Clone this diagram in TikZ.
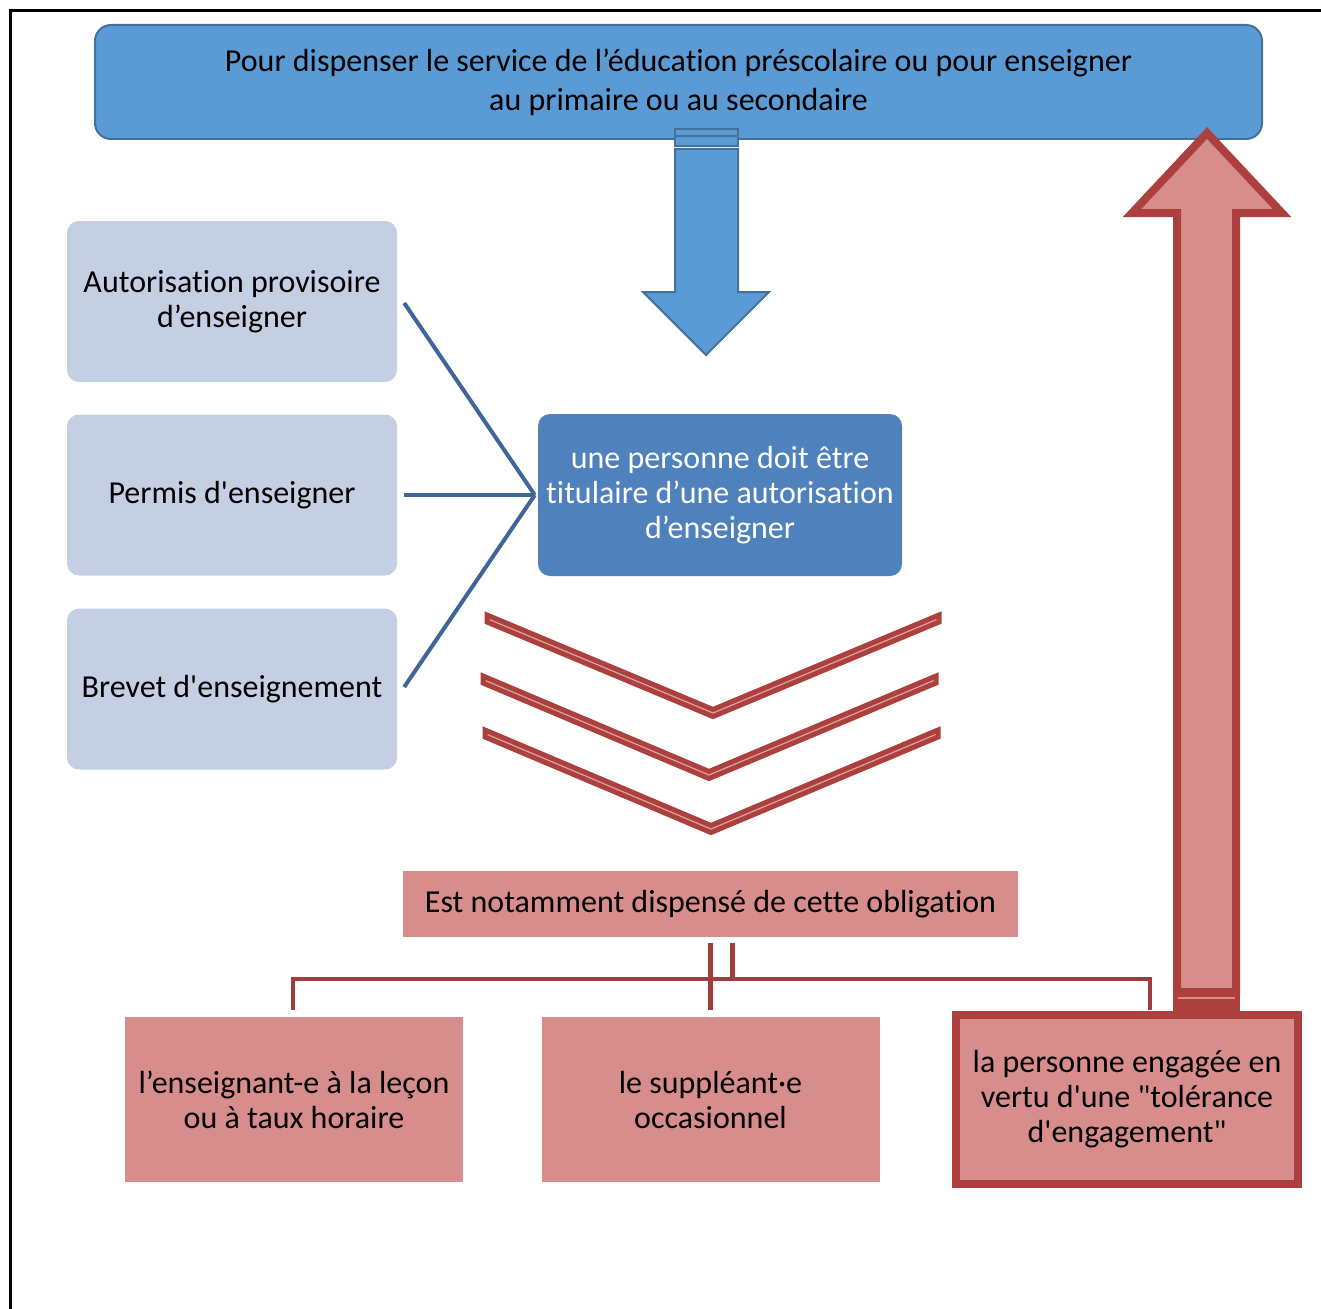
\documentclass[tikz,border=0pt]{standalone}
\usepackage{fontspec}
\setmainfont{Carlito}[Ligatures={TeXOff,NoCommon}]
\usetikzlibrary{calc}
\definecolor{topblue}{HTML}{5B9BD5}
\definecolor{topborder}{HTML}{41719C}
\definecolor{midblue}{HTML}{4F81BD}
\definecolor{lightbox}{HTML}{C4CFE4}
\definecolor{linkblue}{HTML}{3E6699}
\definecolor{pinkfill}{HTML}{D78D8B}
\definecolor{chevpink}{HTML}{E0A3A2}
\definecolor{darkred}{HTML}{AC403E}
\definecolor{lineRed}{HTML}{A13B3D}
\begin{document}
\begin{tikzpicture}[x=1pt,y=-1pt,
  txt/.style={font=\fontsize{32}{35}\selectfont, align=center, text=black},
  leftbox/.style={txt, rectangle, rounded corners=12pt, fill=lightbox, minimum width=330pt, minimum height=161pt, inner sep=0pt},
  pinkbox/.style={txt, rectangle, fill=pinkfill, minimum width=338pt, minimum height=165pt, inner sep=0pt},
  link/.style={draw=linkblue, line width=4pt},
  redlink/.style={draw=lineRed, line width=4.5pt},
  chev/.style={fill=chevpink, draw=darkred, line width=5pt, line join=miter}
]
\useasboundingbox (0,0) rectangle (1321,1308);
% frame
\draw[line width=3pt, black] (1330,11) -- (10,11) -- (10,1320);

% top box
\node[txt, rectangle, rounded corners=16pt, fill=topblue, draw=topborder, line width=2pt,
      minimum width=1167pt, minimum height=114pt, inner sep=0pt,
      font=\fontsize{32}{39}\selectfont] (top) at (678.5,82)
  {Pour dispenser le service de l’éducation préscolaire ou pour enseigner\\au primaire ou au secondaire};

% down arrow
\filldraw[fill=topblue, draw=topborder, line width=2pt]
  (675,149) -- (738,149) -- (738,292) -- (769,292) -- (706,355) -- (643,292) -- (675,292) -- cycle;
\filldraw[fill=topblue, draw=topborder, line width=2pt] (675,129) rectangle (738,146);
\draw[topborder, line width=2pt] (675,136) -- (738,136);

% left boxes
\node[leftbox] (b1) at (232,301.5) {Autorisation provisoire\\d’enseigner};
\node[leftbox] (b2) at (232,495) {Permis d'enseigner};
\node[leftbox] (b3) at (232,689) {Brevet d'enseignement};

% center box
\node[txt, text=white, rectangle, rounded corners=12pt, fill=midblue, minimum width=364pt, minimum height=162pt, inner sep=0pt] (c) at (720,495)
  {une personne doit être\\titulaire d’une autorisation\\d’enseigner};

\coordinate (hub) at ($(c.west)+(-3,0)$);
\draw[link] ($(b1.east)+(7,1.5)$) -- (hub);
\draw[link] ($(b2.east)+(7,0)$) -- (hub);
\draw[link] ($(b3.east)+(7,-2)$) -- (hub);

% chevrons
\draw[chev] (487,615) -- (713,709.5) -- (939,615) -- (939,622) -- (713,716.5) -- (487,622) -- cycle;
\draw[chev] (483,676) -- (709,771.5) -- (936,676) -- (936,683) -- (709,778.5) -- (483,683) -- cycle;
\draw[chev] (485,730) -- (711,825.5) -- (938,730) -- (938,737) -- (711,832.5) -- (485,737) -- cycle;

% exemption box
\node[txt, rectangle, fill=pinkfill, minimum width=615pt, minimum height=66pt, inner sep=0pt] (est) at (710.5,904)
  {Est notamment dispensé de cette obligation};

% bottom boxes
\node[pinkbox] (p1) at (294,1099.5) {l’enseignant-e à la leçon\\ou à taux horaire};
\node[pinkbox] (p2) at (710.5,1099.5) {le suppléant·e\\occasionnel};
\node[txt, rectangle, fill=pinkfill, draw=darkred, line width=8pt, minimum width=342pt, minimum height=169pt, inner sep=0pt] (p3) at (1127,1099.5)
  {la personne engagée en\\vertu d'une "tolérance\\d'engagement"};

% bracket connector
\coordinate (jl) at ($(p1.north)+(-1,-38)$);
\coordinate (p3r) at ($(p3.north)+(23,0)$);
\coordinate (jr) at (p3r |- jl);
\draw[redlink] ($(est.south)+(0,6)$) -- ($(p2.north)+(0,-7)$);
\draw[redlink] ($(est.south)+(22,6)$) -- ($(est.south)+(22,42)$);
\draw[redlink, line join=miter] ($(p1.north)+(-1,-7)$) -- (jl) -- (jr) -- ($(p3r)+(0,-1)$);

% up arrow
\filldraw[fill=pinkfill, draw=darkred, line width=8pt, line join=miter]
  (1177,992) -- (1177,213) -- (1132,213) -- (1207,133) -- (1282,213) -- (1236,213) -- (1236,992) -- cycle;
\fill[darkred] (1173,988) rectangle (1240,1011);
\draw[pinkfill, line width=2.5pt] (1178,998) -- (1235,998);
\end{tikzpicture}
\end{document}
